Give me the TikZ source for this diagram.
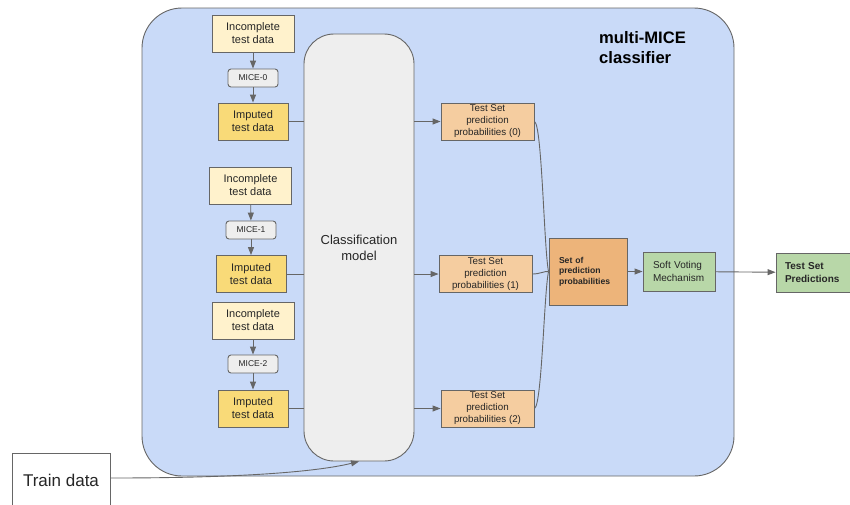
\documentclass[tikz,border=0pt]{standalone}
\usepackage{fontspec}
\setmainfont{Liberation Sans}
\usetikzlibrary{arrows.meta}
\definecolor{edgegray}{HTML}{666666}
\definecolor{panelblue}{HTML}{C9DAF8}
\definecolor{paleyellow}{HTML}{FFF2CC}
\definecolor{goldyellow}{HTML}{F9DA78}
\definecolor{lightgray}{HTML}{EEEEEE}
\definecolor{peach}{HTML}{F5CDA0}
\definecolor{deeppeach}{HTML}{EDB47A}
\definecolor{sage}{HTML}{B8D7A8}
\tikzset{
  box/.style={draw=edgegray, line width=0.9pt, align=center, inner sep=1pt, text=black!85},
  incbox/.style={box, fill=paleyellow, minimum width=82pt, minimum height=37pt, font=\fontsize{11}{13}\selectfont},
  micebox/.style={box, fill=lightgray, rounded corners=3pt, minimum width=50pt, minimum height=18pt, font=\fontsize{8.5}{10}\selectfont},
  impbox/.style={box, fill=goldyellow, minimum width=70pt, minimum height=37pt, font=\fontsize{11}{13}\selectfont},
  probbox/.style={box, fill=peach, minimum width=93pt, minimum height=37pt, font=\fontsize{9.8}{12}\selectfont},
  link/.style={draw=edgegray, line width=0.9pt},
  arrow/.style={link, -{Triangle[length=8pt,width=6pt]}}
}
\begin{document}
\begin{tikzpicture}[x=1pt,y=-1pt]
\useasboundingbox (0,0) rectangle (850,504);

% outer classifier panel
\draw[draw=edgegray, line width=0.9pt, fill=panelblue, rounded corners=40pt] (142,8) rectangle (734,476);
\node[font=\fontsize{16.6}{20}\selectfont\bfseries, align=left, anchor=north west, inner sep=0pt] (title) at (599,31) {multi-MICE\\classifier};

% shared classification model
\node[box, fill=lightgray, rounded corners=30pt, minimum width=110pt, minimum height=427pt, font=\fontsize{13}{16}\selectfont] (model) at (359,247.5) {Classification\\model};

% three imputation branches
\node[incbox] (inc0) at (253,33.5) {Incomplete\\test data};
\node[micebox] (mice0) at (253,78) {MICE-0};
\node[impbox] (imp0) at (253,121.5) {Imputed\\test data};

\node[incbox] (inc1) at (250.5,185.5) {Incomplete\\test data};
\node[micebox] (mice1) at (251,230) {MICE-1};
\node[impbox] (imp1) at (251,274) {Imputed\\test data};

\node[incbox] (inc2) at (253,320.5) {Incomplete\\test data};
\node[micebox] (mice2) at (253,364) {MICE-2};
\node[impbox] (imp2) at (253,408.5) {Imputed\\test data};

\foreach \i in {0,1,2} {
  \draw[arrow] (inc\i) -- (mice\i);
  \draw[arrow] (mice\i) -- (imp\i);
}

% per-branch probabilities
\node[probbox] (p0) at (487.5,121.5) {Test Set\\prediction\\probabilities (0)};
\node[probbox] (p1) at (485.5,274) {Test Set\\prediction\\probabilities (1)};
\node[probbox] (p2) at (487.5,408.5) {Test Set\\prediction\\probabilities (2)};

\draw[link] (imp0.east) -- (imp0.east -| model.west);
\draw[link] (imp1.east) -- (imp1.east -| model.west);
\draw[link] (imp2.east) -- (imp2.east -| model.west);
\draw[arrow] (p0.west -| model.east) -- (p0.west);
\draw[arrow] (p1.west -| model.east) -- (p1.west);
\draw[arrow] (p2.west -| model.east) -- (p2.west);

% aggregation and voting
\node[box, fill=deeppeach, minimum width=78pt, minimum height=67pt, align=left, text width=58pt, font=\fontsize{8.6}{10.5}\selectfont\bfseries] (set) at (588,271.5) {Set of\\prediction\\probabilities};
\node[box, fill=sage, minimum width=72pt, minimum height=39pt, align=left, text width=52pt, font=\fontsize{10}{12.3}\selectfont] (soft) at (679,271.5) {Soft Voting\\Mechanism};
\node[box, fill=sage, minimum width=76pt, minimum height=39pt, align=left, text width=58pt, font=\fontsize{10}{12.3}\selectfont\bfseries] (pred) at (814,272.5) {Test Set\\Predictions};

\draw[link] (p0.east) .. controls (542,124) and (544,250) .. (set.west);
\draw[link] (p1.east) .. controls (540,274) and (544,271) .. (set.west);
\draw[link] (p2.east) .. controls (542,405) and (544,292) .. (set.west);
\draw[arrow] (set) -- (soft);
\draw[arrow] (soft) -- (pred);

% training input
\node[box, fill=white, minimum width=98pt, minimum height=54pt, font=\fontsize{17}{20}\selectfont] (train) at (61,480) {Train data};
\draw[arrow] (train.east |- 0,478) .. controls (250,478) and (320,471) .. (model.south);
\end{tikzpicture}
\end{document}
